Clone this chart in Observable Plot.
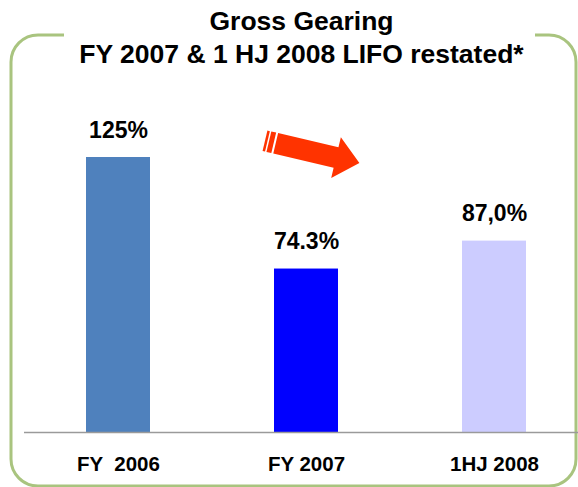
<!DOCTYPE html>
<html><head><meta charset="utf-8">
<script src="https://cdn.jsdelivr.net/npm/d3@7"></script>
<script src="https://cdn.jsdelivr.net/npm/@observablehq/plot@0.6"></script>
<style>
body{margin:0;background:#fff}
svg text{white-space:pre}
</style>
</head><body><div id="chart"></div>
<script>
const categories = ["FY  2006", "FY 2007", "1HJ 2008"];
const values = [125, 74.3, 87.0];
const valueLabels = ["125%", "74.3%", "87,0%"];
const barColors = ["#4f81bd", "#0000ff", "#ccccff"];
const titleLines = ["Gross Gearing", "FY 2007 & 1 HJ 2008 LIFO restated*"];

const data = categories.map((c, i) => ({category: c, value: values[i], label: valueLabels[i], color: barColors[i]}));

const W = 578, H = 487;
const plot = Plot.plot({
  width: W, height: H,
  marginTop: 0, marginBottom: 55, marginLeft: 24, marginRight: 0,
  style: {fontFamily: "Liberation Sans, Arial, sans-serif", background: "white", color: "black"},
  x: {domain: categories, range: [24, 588], paddingInner: 0.66, paddingOuter: 0.33, align: 0.5},
  y: {domain: [0, 125], range: [432, 157], axis: null},
  marks: [
    Plot.barY(data, {x: "category", y: "value", fill: "color"}),
    Plot.ruleY([0], {stroke: "#9a9a9a", strokeWidth: 1.5}),
    Plot.text(data, {x: "category", y: "value", text: "label", dy: -20, lineAnchor: "bottom", fontSize: 23, fontWeight: "bold", fill: "black"}),
    Plot.axisX({tickSize: 0, tickPadding: 24, fontSize: 20.5, fontWeight: "bold", fill: "black", label: null}),
    Plot.text([titleLines[0]], {text: d => d, frameAnchor: "top", dx: 0, dy: 29, lineAnchor: "bottom", fontSize: 26.5, fontWeight: "bold", fill: "black"}),
    Plot.text([titleLines[1]], {text: d => d, frameAnchor: "top", dx: 0, dy: 62, lineAnchor: "bottom", fontSize: 26.5, fontWeight: "bold", fill: "black"})
  ]
});
document.getElementById("chart").appendChild(plot);

// decorations: rounded border with a gap for the title, and the trend arrow
const svg = d3.select(plot);
const L = 11, T = 35, R = 576, B = 486, r = 27, gapL = 64, gapR = 535;
const p = d3.path();
p.moveTo(gapL, T);
p.lineTo(L + r, T);
p.arcTo(L, T, L, T + r, r);
p.lineTo(L, B - r);
p.arcTo(L, B, L + r, B, r);
p.lineTo(R - r, B);
p.arcTo(R, B, R, B - r, r);
p.lineTo(R, T + r);
p.arcTo(R, T, R - r, T, r);
p.lineTo(gapR, T);
svg.insert("path", ":first-child").attr("d", p.toString()).attr("fill", "none").attr("stroke", "#a9c47f").attr("stroke-width", 3);
svg.insert("rect", ":first-child").attr("width", W).attr("height", H).attr("fill", "white");

const g = svg.append("g").attr("transform", "translate(275.7,143.3) rotate(13.3)").attr("fill", "#ff3300");
g.append("polygon").attr("points", "0,-10.5 62,-10.5 62,-21 86,0 62,21 62,10.5 0,10.5");
g.append("rect").attr("x", -7).attr("y", -10.5).attr("width", 5).attr("height", 21);
g.append("rect").attr("x", -11).attr("y", -10.5).attr("width", 2.5).attr("height", 21);
</script>
</body></html>
